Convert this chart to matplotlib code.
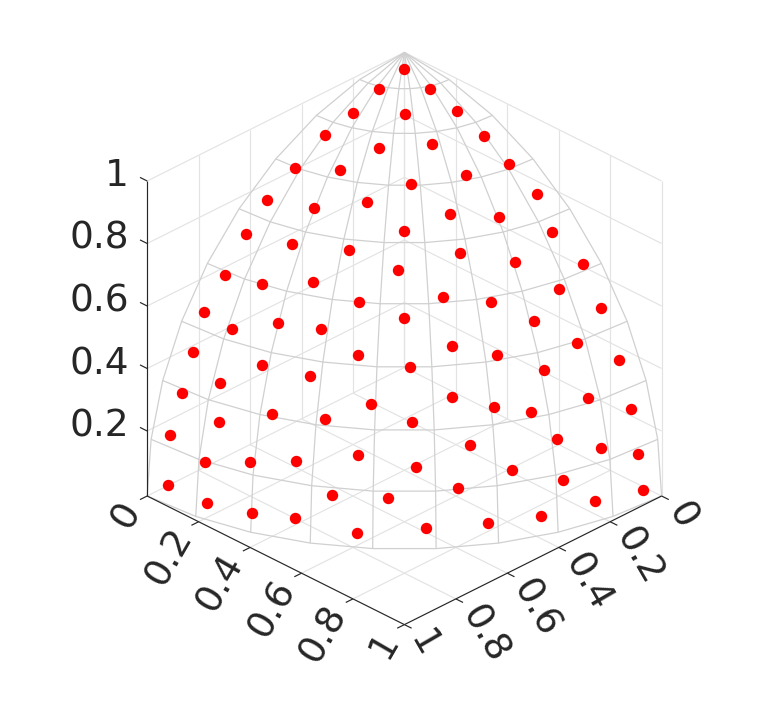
import numpy as np
import matplotlib
matplotlib.use('Agg')
import matplotlib.pyplot as plt
from mpl_toolkits.mplot3d import proj3d

# Point values
a_vals = [0.061,0.070,0.083,0.196,0.073,0.224,0.073,0.187,0.364,0.065,0.198,0.309,0.435,0.069,0.206,0.351,0.484,0.071,0.188,0.315,0.448,0.172,0.278,0.318,0.384,0.482,0.442,0.579,0.490,0.574,0.667,
          0.571,0.670,0.753,0.764,0.606,0.691,0.059,0.165,0.281,0.394,0.560,0.073,0.285,0.417,0.507,0.624,0.185,0.075,0.355,0.487,0.579,0.675,0.214,0.066,0.192,0.323,0.443,0.586,0.076,0.210,0.345,
          0.461,0.544,0.667,0.609,0.831,0.775,0.851,0.679,0.761,0.906,0.841,0.914,0.956,0.728,0.804,0.860,0.910,0.959,0.985,0.792,0.709,0.869,0.936,0.997,0.792,0.971,0.920,0.849,0.746]
b_vals = [0.062,0.170,0.281,0.192,0.381,0.323,0.497,0.436,0.338,0.598,0.551,0.456,0.435,0.683,0.644,0.566,0.509,0.770,0.743,0.672,0.623,0.072,0.074,0.212,0.073,0.077,0.204,0.064,0.313,0.206,0.092,
          0.356,0.239,0.057,0.163,0.454,0.353,0.840,0.835,0.774,0.719,0.561,0.895,0.839,0.784,0.686,0.602,0.902,0.941,0.868,0.797,0.709,0.644,0.933,0.976,0.967,0.925,0.866,0.765,0.995,0.977,0.937,
          0.885,0.826,0.730,0.792,0.068,0.270,0.178,0.494,0.402,0.073,0.297,0.202,0.076,0.542,0.455,0.367,0.316,0.193,0.078,0.537,0.663,0.450,0.318,0.070,0.585,0.230,0.389,0.525,0.663]
c_vals = [0.996,0.983,0.956,0.962,0.922,0.920,0.864,0.880,0.868,0.799,0.811,0.835,0.788,0.727,0.737,0.746,0.712,0.634,0.642,0.670,0.641,0.982,0.958,0.924,0.921,0.873,0.873,0.813,0.814,0.793,0.739,
          0.740,0.702,0.656,0.624,0.653,0.630,0.540,0.525,0.567,0.572,0.610,0.440,0.463,0.460,0.522,0.498,0.391,0.329,0.347,0.356,0.404,0.361,0.289,0.206,0.167,0.202,0.232,0.267,0.058,0.047,0.054,
          0.064,0.146,0.149,0.038,0.552,0.571,0.494,0.543,0.509,0.417,0.453,0.353,0.283,0.419,0.383,0.355,0.268,0.209,0.152,0.289,0.239,0.205,0.149,0.039,0.173,0.059,0.055,0.061,0.058]

horiz_ticks = [0, 0.2, 0.4, 0.6, 0.8, 1]
horiz_labels = ['0', '0.2', '0.4', '0.6', '0.8', '1']
z_ticks = [0.2, 0.4, 0.6, 0.8, 1]
z_labels = ['0.2', '0.4', '0.6', '0.8', '1']
ZMIN = -0.008

GRID = '#e3e3e3'
MESH = '#d0d0d0'
AXC = '#262626'

W = 703
fig = plt.figure(figsize=(7.81, 7.03), dpi=100)
ax = fig.add_axes([43.4/781, 3.5/703, W/781, W/703], projection='3d')
ax.computed_zorder = False
ax.set_proj_type('ortho')
ax.view_init(elev=30, azim=45)
ax.set_axis_off()

# mpl x holds "b", mpl y holds "a"
def line(b, a, z, **kw):
    ax.plot(b, a, z, solid_capstyle='butt', **kw)

g = dict(color=GRID, lw=0.85, zorder=1)
for t in horiz_ticks[:-1]:
    line([0, 1], [t, t], [ZMIN, ZMIN], **g)          # floor
    line([t, t], [0, 1], [ZMIN, ZMIN], **g)
for t in horiz_ticks[1:-1] + [0]:
    line([t, t], [0, 0], [ZMIN, 1], **g)             # wall a=0
    line([0, 0], [t, t], [ZMIN, 1], **g)             # wall b=0
line([0, 0], [1, 1], [ZMIN, 1], **g)
for t in z_ticks:
    line([0, 1], [0, 0], [t, t], **g)
    line([0, 0], [0, 1], [t, t], **g)

# Sphere octant mesh at 10 degree nodes, spanning the full z range
lon = np.radians(np.arange(0, 91, 10))
lat = np.radians(np.arange(0, 91, 10))
LON, LAT = np.meshgrid(lon, lat)
ax.plot_wireframe(np.sin(LAT)*np.cos(LON), np.sin(LAT)*np.sin(LON),
                  ZMIN + np.cos(LAT)*(1-ZMIN),
                  color=MESH, lw=0.9, zorder=2)

# Axes
ax_style = dict(color=AXC, lw=0.85, zorder=3)
line([1, 1], [0, 0], [ZMIN, 1], **ax_style)
line([1, 1], [0, 1], [ZMIN, ZMIN], **ax_style)
line([0, 1], [1, 1], [ZMIN, ZMIN], **ax_style)
TL = 0.028
for t in horiz_ticks:
    line([1, 1+TL], [t, t], [ZMIN, ZMIN], **ax_style)
    line([t, t], [1, 1+TL], [ZMIN, ZMIN], **ax_style)
for t in z_ticks:
    line([1, 1], [0, -TL], [t, t], **ax_style)

ax.plot(b_vals, a_vals, c_vals, ls='none', marker='o', ms=8.2, mfc='#ff0000', mec='none', zorder=5)

ax.set_xlim(0, 1); ax.set_ylim(0, 1); ax.set_zlim(ZMIN, 1)
ax.set_box_aspect((1, 1, 1), zoom=0.870)

M = ax.get_proj()
def label(txt, b, a, z, off, **kw):
    x2, y2, _ = proj3d.proj_transform(b, a, z, M)
    ax.annotate(txt, xy=(x2, y2), xycoords='data', xytext=off, textcoords='offset pixels',
                fontsize=27, color=AXC, family='DejaVu Sans', annotation_clip=False,
                rotation_mode='anchor', zorder=6, **kw)

for t, s in zip(horiz_ticks, horiz_labels):
    label(s, 1, t, ZMIN, (-14.5, -9.5), ha='right', va='center', rotation=60)
    label(s, t, 1, ZMIN, (13.5, -9.5), ha='left', va='center', rotation=-60)
for t, s in zip(z_ticks, z_labels):
    label(s, 1, 0, t, (-18.5, 4.5), ha='right', va='center')

fig.savefig('out.png', dpi=100)
